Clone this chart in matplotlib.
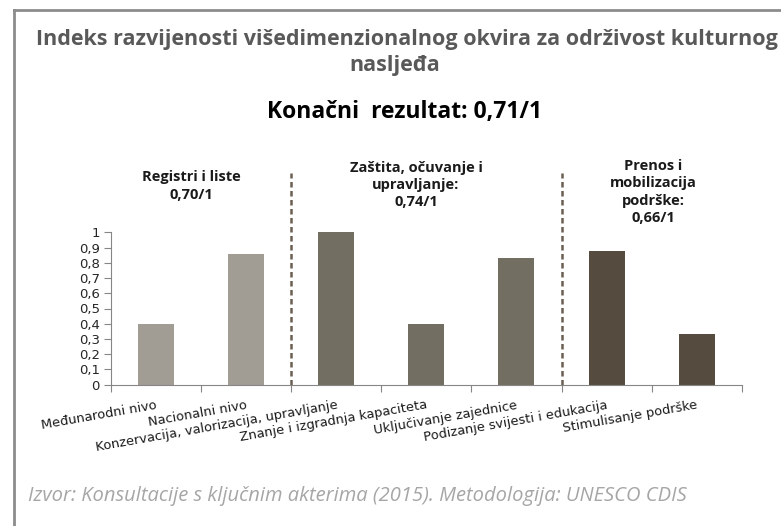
import matplotlib
matplotlib.use("Agg")
import matplotlib.pyplot as plt
from matplotlib.lines import Line2D

W, H = 781, 526

# data
categories = [
    "Međunarodni nivo",
    "Nacionalni nivo",
    "Konzervacija, valorizacija, upravljanje",
    "Znanje i izgradnja kapaciteta",
    "Uključivanje zajednice",
    "Podizanje svijesti i edukacija",
    "Stimulisanje podrške",
]
values = [0.40, 0.86, 1.00, 0.40, 0.83, 0.88, 0.33]
bar_colors = ["#A19C94", "#A19C94", "#736E62", "#736E62", "#736E62",
              "#554C3F", "#554C3F"]
group_labels = [
    "Registri i liste\n0,70/1",
    "Zaštita, očuvanje i\nupravljanje:\n0,74/1",
    "Prenos i\nmobilizacija\npodrške:\n0,66/1",
]
separators = [1.5, 4.5]
yticks = [i / 10 for i in range(11)]
ytick_labels = ["0"] + ["0,%d" % i for i in range(1, 10)] + ["1"]


def px(x, y):
    return x / W, 1 - y / H


fig = plt.figure(figsize=(W / 100, H / 100), dpi=100)
fig.patch.set_facecolor("white")

# outer frame (top and left edge visible)
fig.add_artist(Line2D([14 / W, 1], [1 - 10 / H] * 2, color="#8C8C8C", lw=2))
fig.add_artist(Line2D([14 / W] * 2, [0, 1 - 10 / H], color="#8C8C8C", lw=2))

ax = fig.add_axes([111 / W, (H - 384.7) / H, 630.7 / W, 152.4 / H])
x = list(range(len(categories)))
ax.bar(x, values, width=0.4, color=bar_colors)
ax.set_xlim(-0.5, len(categories) - 0.5)
ax.set_ylim(0, 1)

ax.set_yticks(yticks)
ax.set_yticklabels(ytick_labels, fontsize=9.5, color="#262626",
                   family="DejaVu Sans")
ax.tick_params(axis="y", length=5, color="#868686", pad=3)

ax.set_xticks([i - 0.5 for i in range(len(categories) + 1)])
ax.set_xticklabels([])
ax.tick_params(axis="x", which="major", length=5, color="#868686")
ax.set_xticks(x, minor=True)
ax.set_xticklabels(categories, minor=True, rotation=10, ha="right",
                   va="top", rotation_mode="anchor", fontsize=9.4,
                   color="#1A1A1A", family="DejaVu Sans")
ax.tick_params(axis="x", which="minor", length=0, pad=10)

for s in ["top", "right"]:
    ax.spines[s].set_visible(False)
for s in ["left", "bottom"]:
    ax.spines[s].set_color("#868686")

for sx in separators:
    ax.plot([sx, sx], [0, 1.39], color="#6B5F52", lw=1.8,
            ls=(0, (2.2, 1.4)), clip_on=False)

# titles
fig.text(*px(407, 40), "Indeks razvijenosti višedimenzionalnog okvira za održivost kulturnog",
         ha="center", va="center", fontsize=15.5, fontweight="bold",
         color="#595959", family="Open Sans")
fig.text(*px(395, 65), "nasljeđa", ha="center", va="center", fontsize=15.5,
         fontweight="bold", color="#595959", family="Open Sans")
fig.text(*px(405, 112), "Konačni  rezultat: 0,71/1", ha="center", va="center",
         fontsize=16.5, fontweight="bold", color="#000000", family="Open Sans")

# group labels
gpos = [(191, 186), (416, 185), (653, 192)]
for (gx, gy), lab in zip(gpos, group_labels):
    fig.text(*px(gx, gy), lab, ha="center", va="center", fontsize=10.5,
             fontweight="bold", color="#1A1A1A", family="Open Sans",
             linespacing=1.3)

fig.text(*px(28, 496), "Izvor: Konsultacije s ključnim akterima (2015). Metodologija: UNESCO CDIS",
         ha="left", va="center", fontsize=14.5, style="italic", color="#A6A6A6",
         family="Open Sans")

fig.savefig("out.png", dpi=100)
